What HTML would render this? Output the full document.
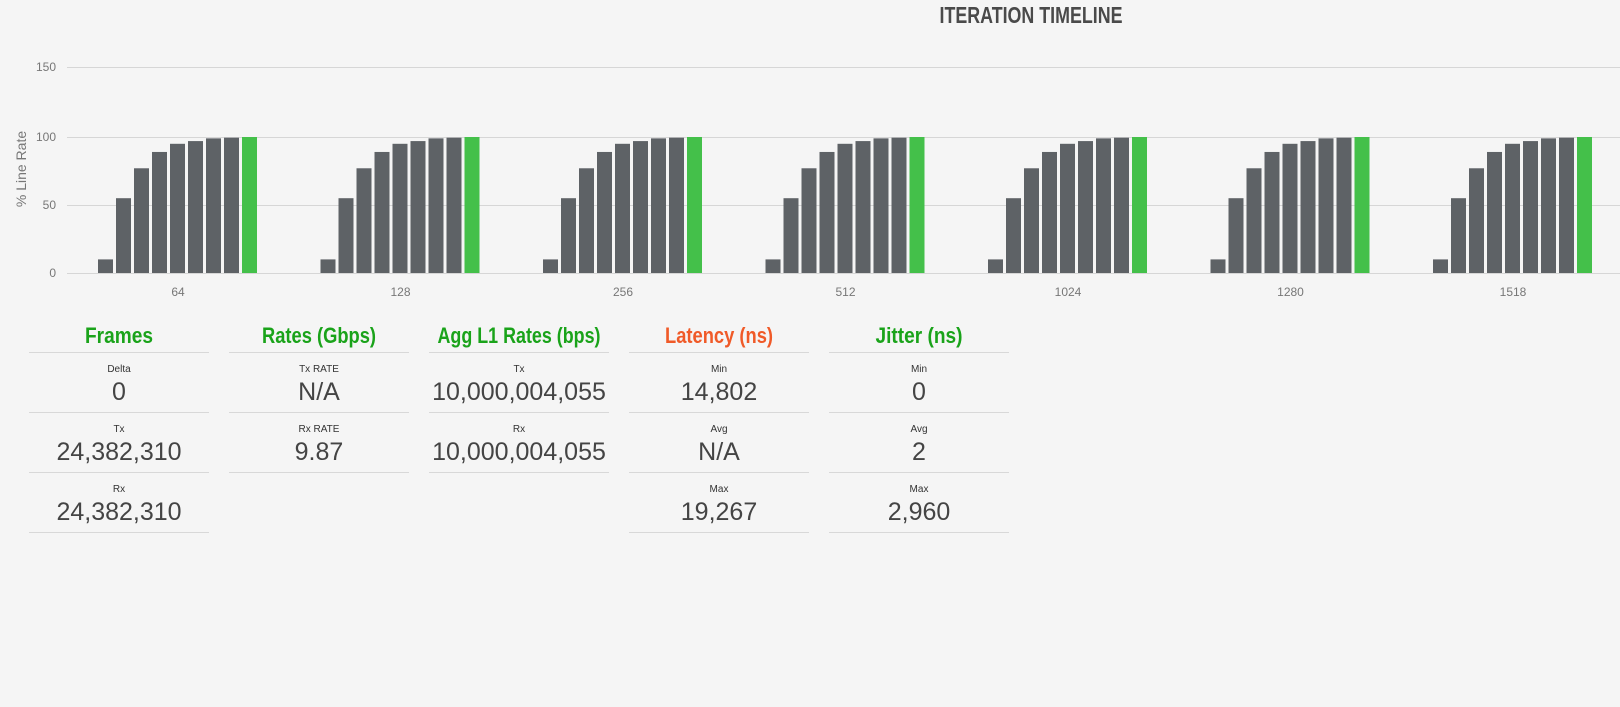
<!DOCTYPE html>
<html><head><meta charset="utf-8"><style>
html,body{margin:0;padding:0;background:#f5f5f5;}
svg{display:block;}
text{font-family:"Liberation Sans",sans-serif;}
</style></head><body>
<svg width="1620" height="707" viewBox="0 0 1620 707" xmlns="http://www.w3.org/2000/svg">
<rect width="1620" height="707" fill="#f5f5f5"/>
<text x="1031" y="23" text-anchor="middle" font-size="23" font-weight="bold" fill="#4a4a4a" textLength="183" lengthAdjust="spacingAndGlyphs">ITERATION TIMELINE</text>
<g stroke="#d6d6d6" stroke-width="1">
<line x1="67" y1="67.5" x2="1620" y2="67.5"/>
<line x1="67" y1="137.5" x2="1620" y2="137.5"/>
<line x1="67" y1="205.5" x2="1620" y2="205.5"/>
<line x1="67" y1="273.5" x2="1620" y2="273.5"/>
</g>
<g font-size="12" fill="#777" text-anchor="end">
<text x="56" y="71">150</text><text x="56" y="141">100</text><text x="56" y="209">50</text><text x="56" y="277">0</text>
</g>
<text transform="translate(26,169) rotate(-90)" text-anchor="middle" font-size="14" fill="#777">% Line Rate</text>
<g id="bars"></g>
<g font-size="12" fill="#777" text-anchor="middle" id="cats"></g>
<g id="stats"></g>
</svg>
<script>
var ns="http://www.w3.org/2000/svg";
var vals=[10,55,77,89,95,97,99,99.5,100];
var cats=["64","128","256","512","1024","1280","1518"];
var bars=document.getElementById("bars"),cg=document.getElementById("cats");
for(var g=0;g<7;g++){
 var x0=98+g*222.5;
 for(var j=0;j<9;j++){
  var h=vals[j]*1.36;var r=document.createElementNS(ns,"rect");
  r.setAttribute("x",x0+j*18);r.setAttribute("y",273-h);r.setAttribute("width",15);r.setAttribute("height",h);
  r.setAttribute("fill",j==8?"#44c04a":"#5e6266");bars.appendChild(r);
 }
 var t=document.createElementNS(ns,"text");t.setAttribute("x",x0+80);t.setAttribute("y",296);t.textContent=cats[g];cg.appendChild(t);
}
var cols=[
 ["Frames","#1aa31a",68,[["Delta","0"],["Tx","24,382,310"],["Rx","24,382,310"]]],
 ["Rates (Gbps)","#1aa31a",114,[["Tx RATE","N/A"],["Rx RATE","9.87"]]],
 ["Agg L1 Rates (bps)","#1aa31a",163,[["Tx","10,000,004,055"],["Rx","10,000,004,055"]]],
 ["Latency (ns)","#f05a28",108,[["Min","14,802"],["Avg","N/A"],["Max","19,267"]]],
 ["Jitter (ns)","#1aa31a",87,[["Min","0"],["Avg","2"],["Max","2,960"]]]
];
var st=document.getElementById("stats");
function tx(x,y,s,sz,fill,bold,len){var t=document.createElementNS(ns,"text");t.setAttribute("x",x);t.setAttribute("y",y);t.setAttribute("text-anchor","middle");t.setAttribute("font-size",sz);t.setAttribute("fill",fill);if(bold)t.setAttribute("font-weight","bold");if(len){t.setAttribute("textLength",len);t.setAttribute("lengthAdjust","spacingAndGlyphs");}t.textContent=s;st.appendChild(t);}
function ln(x,y){var l=document.createElementNS(ns,"line");l.setAttribute("x1",x);l.setAttribute("x2",x+180);l.setAttribute("y1",y);l.setAttribute("y2",y);l.setAttribute("stroke","#d8d8d8");st.appendChild(l);}
cols.forEach(function(c,i){
 var x=29+i*200,cx=x+90;
 tx(cx,343,c[0],22,c[1],true,c[2]);
 ln(x,352.5);
 c[3].forEach(function(r,k){
  tx(cx,372+k*60,r[0],10,"#333");
  tx(cx,400+k*60,r[1],25,"#444");
  ln(x,412.5+k*60);
 });
});
</script>
</body></html>
